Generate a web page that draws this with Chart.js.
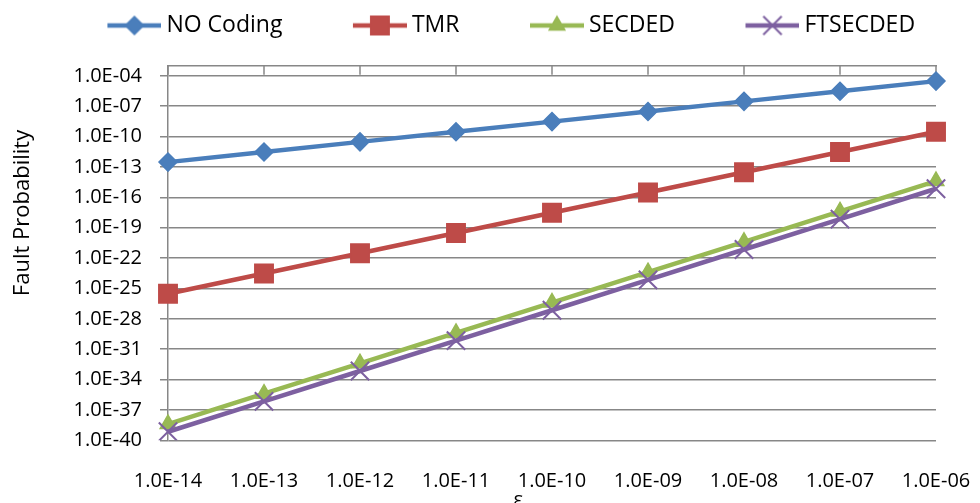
<!DOCTYPE html>
<html>
<head>
<meta charset="utf-8">
<script src="https://cdn.jsdelivr.net/npm/chart.js@4.4.0/dist/chart.umd.min.js"></script>
<style>
  html, body { margin: 0; padding: 0; background: #fff; }
  #wrap { width: 980px; height: 503px; }
</style>
</head>
<body>
<div id="wrap"><canvas id="faultChart"></canvas></div>
<script>
// epsilon values on the x axis
const epsLabels = ["1.0E-14", "1.0E-13", "1.0E-12", "1.0E-11", "1.0E-10", "1.0E-09", "1.0E-08", "1.0E-07", "1.0E-06"];

// fault probability
const noCoding = [3e-13, 3e-12, 3e-11, 3e-10, 3e-9, 3e-8, 3e-7, 3e-6, 3e-5];
const tmr = [3e-26, 3e-24, 3e-22, 3e-20, 3e-18, 3e-16, 3e-14, 3e-12, 3e-10];
const secded = [4e-39, 4e-36, 4e-33, 4e-30, 4e-27, 4e-24, 4e-21, 4e-18, 4e-15];
const ftsecded = [7e-40, 7e-37, 7e-34, 7e-31, 7e-28, 7e-25, 7e-22, 7e-19, 7e-16];

const seriesNames = ["NO Coding", "TMR", "SECDED", "FTSECDED"];

// y tick labels (every 3 decades)
const yTickLabels = ["1.0E-40", "1.0E-37", "1.0E-34", "1.0E-31", "1.0E-28", "1.0E-25", "1.0E-22",
  "1.0E-19", "1.0E-16", "1.0E-13", "1.0E-10", "1.0E-07", "1.0E-04"];
const yMin = 1e-40;
const yMax = 1e-3;

const FONT = "'Open Sans', 'DejaVu Sans', sans-serif";
const gridColor = "#878787";

const styles = [
  { color: "#4A7EBB", pointStyle: "rectRot", radius: 9, pbw: 1.5 },
  { color: "#BE4B48", pointStyle: "rect", radius: 13, pbw: 1.5 },
  { color: "#98B954", pointStyle: "triangle", radius: 9, pbw: 1.5 },
  { color: "#7D60A0", pointStyle: "crossRot", radius: 13, pbw: 2 }
];

const seriesData = [noCoding, tmr, secded, ftsecded];

const datasets = seriesData.map((d, i) => ({
  label: seriesNames[i],
  data: d,
  borderColor: styles[i].color,
  backgroundColor: styles[i].color,
  borderWidth: 4.5,
  tension: 0,
  pointStyle: styles[i].pointStyle,
  pointRadius: styles[i].radius,
  pointHoverRadius: styles[i].radius,
  pointBackgroundColor: styles[i].color,
  pointBorderColor: styles[i].color,
  pointBorderWidth: styles[i].pbw,
  order: seriesData.length - i   // later series painted on top
}));

// legend icon: short line with the marker in the middle
const ICON_BOX = 108;
function legendIcon(st) {
  const c = document.createElement("canvas");
  c.width = ICON_BOX + 13;
  c.height = 28;
  const g = c.getContext("2d");
  const x0 = c.width - 54, x1 = c.width, cy = 14;
  g.strokeStyle = st.color;
  g.lineWidth = 4.5;
  g.beginPath(); g.moveTo(x0, cy); g.lineTo(x1, cy); g.stroke();
  g.fillStyle = st.color;
  g.lineWidth = st.pbw;
  Chart.helpers.drawPoint(g, { pointStyle: st.pointStyle, radius: st.radius, borderWidth: st.pbw, rotation: 0 }, (x0 + x1) / 2, cy);
  return c;
}

const topTicks = {
  id: "topTicks",
  beforeDatasetsDraw(chart) {
    const { ctx, chartArea } = chart;
    const xs = chart.scales.x2;
    ctx.save();
    ctx.strokeStyle = gridColor;
    ctx.lineWidth = 1.5;
    xs.ticks.forEach((t, i) => {
      const px = xs.getPixelForTick(i);
      ctx.beginPath();
      ctx.moveTo(px, chartArea.top);
      ctx.lineTo(px, chartArea.top + 9);
      ctx.stroke();
    });
    ctx.restore();
  }
};

const ctx = document.getElementById("faultChart").getContext("2d");
const chart = new Chart(ctx, {
  type: "line",
  data: { labels: epsLabels, datasets: datasets },
  plugins: [topTicks],
  options: {
    responsive: true,
    maintainAspectRatio: false,
    animation: false,
    layout: { padding: { left: 26, right: 44, top: 4, bottom: 0 } },
    plugins: {
      tooltip: { enabled: false },
      legend: {
        position: "top",
        labels: {
          usePointStyle: true,
          pointStyleWidth: ICON_BOX,
          padding: 10,
          color: "#000",
          font: { family: FONT, size: 23 },
          generateLabels: (ch) => ch.data.datasets.map((ds, i) => ({
            text: ds.label,
            datasetIndex: i,
            pointStyle: legendIcon(styles[i]),
            fillStyle: ds.borderColor,
            strokeStyle: ds.borderColor,
            lineWidth: 0,
            fontColor: "#000",
            hidden: false
          }))
        }
      }
    },
    scales: {
      x: {
        type: "category",
        position: "bottom",
        offset: false,
        grid: { display: false, drawTicks: false },
        border: { display: false },
        ticks: {
          color: "#000",
          font: { family: FONT, size: 20, lineHeight: 4.1 },
          maxRotation: 0,
          autoSkip: false,
          padding: 0
        },
        title: {
          display: true,
          text: "ε" + " ".repeat(13),
          color: "#000",
          font: { family: FONT, size: 20, lineHeight: 0.3 },
          padding: 0
        },
        afterFit: (s) => { s.height = 62.7; }
      },
      x2: {
        type: "category",
        position: "top",
        labels: epsLabels,
        offset: false,
        grid: { display: false, drawTicks: false },
        border: { display: true, color: gridColor, width: 1.5 },
        ticks: { display: false },
        afterFit: (s) => { s.height = 18.7; }
      },
      y: {
        type: "logarithmic",
        min: yMin,
        max: yMax,
        afterBuildTicks: (s) => { s.ticks = yTickLabels.map(l => ({ value: Number(l) })); },
        grid: { color: gridColor, lineWidth: 1.5, tickLength: 8 },
        border: { display: true, color: gridColor, width: 1.5 },
        ticks: {
          color: "#000",
          font: { family: FONT, size: 20 },
          padding: 18,
          callback: (v, i) => yTickLabels[i]
        },
        title: {
          display: true,
          text: " ".repeat(14) + "Fault Probability",
          color: "#000",
          font: { family: FONT, size: 22, lineHeight: 0.4 },
          padding: { top: -8, bottom: 0 }
        },
        afterFit: (s) => { s.width = 142; }
      }
    }
  }
});
</script>
</body>
</html>
